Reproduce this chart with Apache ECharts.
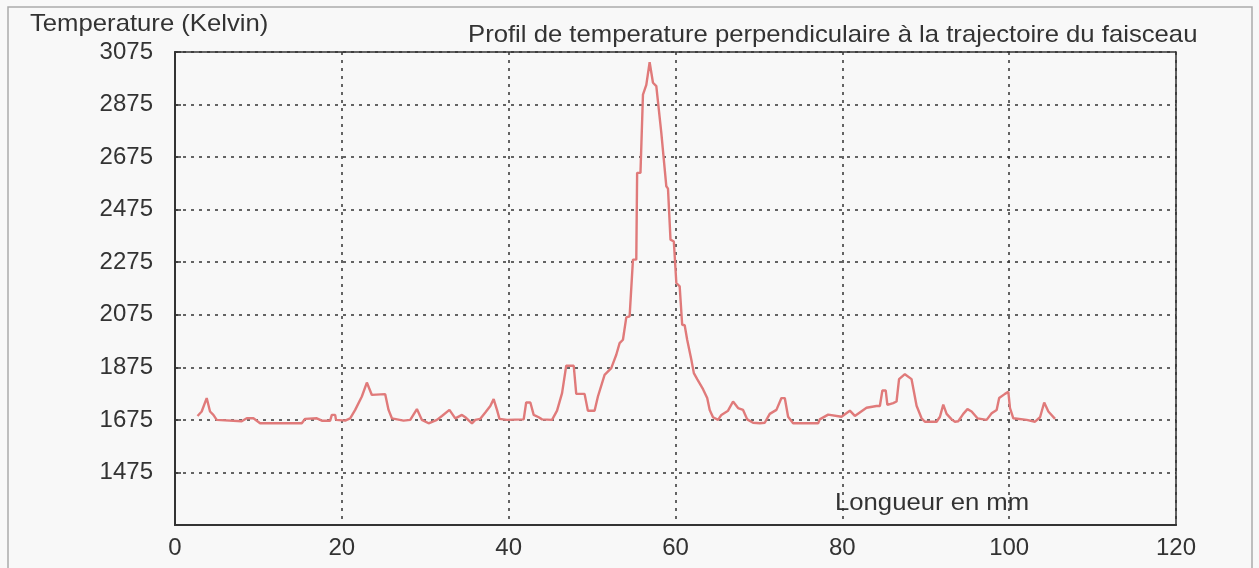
<!DOCTYPE html>
<html>
<head>
<meta charset="utf-8">
<script src="https://cdn.jsdelivr.net/npm/echarts@6/dist/echarts.min.js"></script>
<style>
  html, body { margin: 0; padding: 0; background: #f8f8f8; }
  #chart { width: 1259px; height: 568px; }
</style>
</head>
<body>
<div id="chart"></div>
<script>
// Position across the beam path (mm)
const positionMm = [
  2.7, 3.2, 3.8, 4.2, 4.6, 5.0, 8.0, 8.6, 9.4, 10.2, 15.2, 15.6, 17.0, 17.6, 18.6, 18.8, 19.2, 19.3,
  20.4, 21.0, 21.6, 22.4, 23.0, 23.6, 25.2, 25.6, 26.0, 27.4, 28.2, 29.0, 29.6, 30.4, 31.4, 32.0,
  32.9, 33.6, 34.4, 34.8, 35.6, 36.0, 36.6, 37.2, 37.8, 38.2, 38.6, 38.9, 39.8, 41.8, 42.1, 42.6,
  43.0, 43.6, 44.0, 45.2, 45.8, 46.4, 46.9, 47.8, 48.1, 49.1, 49.5, 50.3, 50.7, 51.5, 52.3, 52.9,
  53.3, 53.7, 54.1, 54.5, 54.9, 55.3, 55.4, 55.8, 56.1, 56.5, 56.9, 57.3, 57.7, 58.3, 58.5, 58.9,
  59.1, 59.4, 59.8, 60.1, 60.5, 60.8, 61.1, 61.4, 61.9, 62.2, 62.6, 63.3, 63.8, 64.1, 64.5, 65.1,
  65.5, 66.3, 66.9, 67.5, 68.1, 68.6, 69.3, 70.1, 70.7, 71.3, 72.1, 72.7, 73.1, 73.5, 74.1, 77.1,
  77.3, 78.3, 79.9, 80.9, 81.5, 82.9, 84.1, 84.5, 84.8, 85.2, 85.4, 86.1, 86.5, 86.8, 87.5, 88.3,
  88.9, 89.5, 89.9, 91.3, 91.7, 92.1, 92.5, 93.1, 93.5, 93.9, 94.5, 95.0, 95.5, 96.2, 97.3, 97.9,
  98.5, 98.8, 99.5, 99.9, 100.1, 100.5, 102.1, 103.1, 103.7, 104.2, 104.7, 105.5
];

// Temperature (K) at each position
const temperatureK = [
  1690, 1707, 1758, 1707, 1694, 1675, 1670, 1681, 1681, 1662, 1662, 1679, 1681, 1672, 1672, 1694, 1694, 1675,
  1672, 1681, 1713, 1764, 1817, 1770, 1773, 1713, 1681, 1672, 1675, 1716, 1675, 1662, 1675, 1690,
  1713, 1681, 1694, 1685, 1662, 1675, 1679, 1703, 1728, 1754, 1713, 1679, 1675, 1677, 1741, 1741,
  1694, 1685, 1677, 1675, 1710, 1777, 1881, 1881, 1774, 1774, 1710, 1710, 1764, 1846, 1872, 1923,
  1967, 1980, 2065, 2069, 2285, 2285, 2615, 2615, 2913, 2950, 3036, 2958, 2945, 2767, 2760, 2564,
  2555, 2361, 2354, 2196, 2183, 2037, 2035, 1980, 1904, 1853, 1830, 1792, 1758, 1713, 1685, 1675,
  1694, 1710, 1745, 1720, 1713, 1677, 1664, 1662, 1664, 1698, 1713, 1758, 1758, 1687, 1662, 1662,
  1677, 1695, 1687, 1710, 1690, 1721, 1728, 1728, 1787, 1787, 1732, 1739, 1745, 1830, 1849, 1830,
  1729, 1681, 1668, 1668, 1687, 1733, 1698, 1677, 1668, 1670, 1698, 1716, 1707, 1681, 1675, 1700,
  1713, 1758, 1774, 1782, 1720, 1681, 1675, 1668, 1685, 1741, 1707, 1679
];

// Axis scales
const xTicks = { min: 0, max: 120, step: 20 };
const yTicks = { min: 1275, max: 3075, step: 200 };

const axisTitleY = 'Temperature (Kelvin)';
const chartTitle = 'Profil de temperature perpendiculaire à la trajectoire du faisceau';
const axisTitleX = 'Longueur en mm';

const points = positionMm.map((x, i) => [x, temperatureK[i]]);

const textColor = '#333';
const fontFamily = 'Arial, "Liberation Sans", sans-serif';
const textFont = '24px ' + fontFamily;
const gridDash = { color: '#333', width: 1.5, type: [3, 5] };

const chart = echarts.init(document.getElementById('chart'));
chart.setOption({
  backgroundColor: '#f8f8f8',
  animation: false,
  grid: {
    left: 175, right: 83, top: 52, bottom: 43,
    show: true, borderColor: '#333', borderWidth: 1.5, backgroundColor: 'transparent'
  },
  xAxis: {
    type: 'value',
    min: xTicks.min, max: xTicks.max, interval: xTicks.step,
    axisLine: { lineStyle: { color: '#333', width: 2 } },
    axisTick: { show: false },
    axisLabel: { color: textColor, fontSize: 24, fontFamily, margin: 11 },
    splitLine: { show: true, lineStyle: gridDash }
  },
  yAxis: {
    type: 'value',
    min: yTicks.min, max: yTicks.max, interval: yTicks.step,
    axisLine: { show: true, lineStyle: { color: '#333', width: 2 } },
    axisTick: { show: true, inside: true, length: 6, lineStyle: { color: '#333', width: 1.5 } },
    axisLabel: {
      color: textColor, fontSize: 24, fontFamily, margin: 22, showMinLabel: false,
      formatter: v => String(v)
    },
    splitLine: { show: true, lineStyle: gridDash }
  },
  graphic: [
    {
      type: 'rect', silent: true,
      shape: { x: 8, y: 7, width: 1244, height: 600 },
      style: { fill: 'none', stroke: '#aaa', lineWidth: 1.5 }
    },
    {
      type: 'text', x: 30, y: 12, scaleX: 1.07,
      style: { text: axisTitleY, fill: textColor, font: textFont }
    },
    {
      type: 'text', x: 468, y: 23, scaleX: 1.07,
      style: { text: chartTitle, fill: textColor, font: textFont }
    },
    {
      type: 'text', x: 835, y: 491, scaleX: 1.07,
      style: { text: axisTitleX, fill: textColor, font: textFont }
    }
  ],
  series: [{
    type: 'line',
    data: points,
    showSymbol: false,
    lineStyle: { color: '#e07a7a', width: 2.4 },
    z: 5
  }]
});
</script>
</body>
</html>
